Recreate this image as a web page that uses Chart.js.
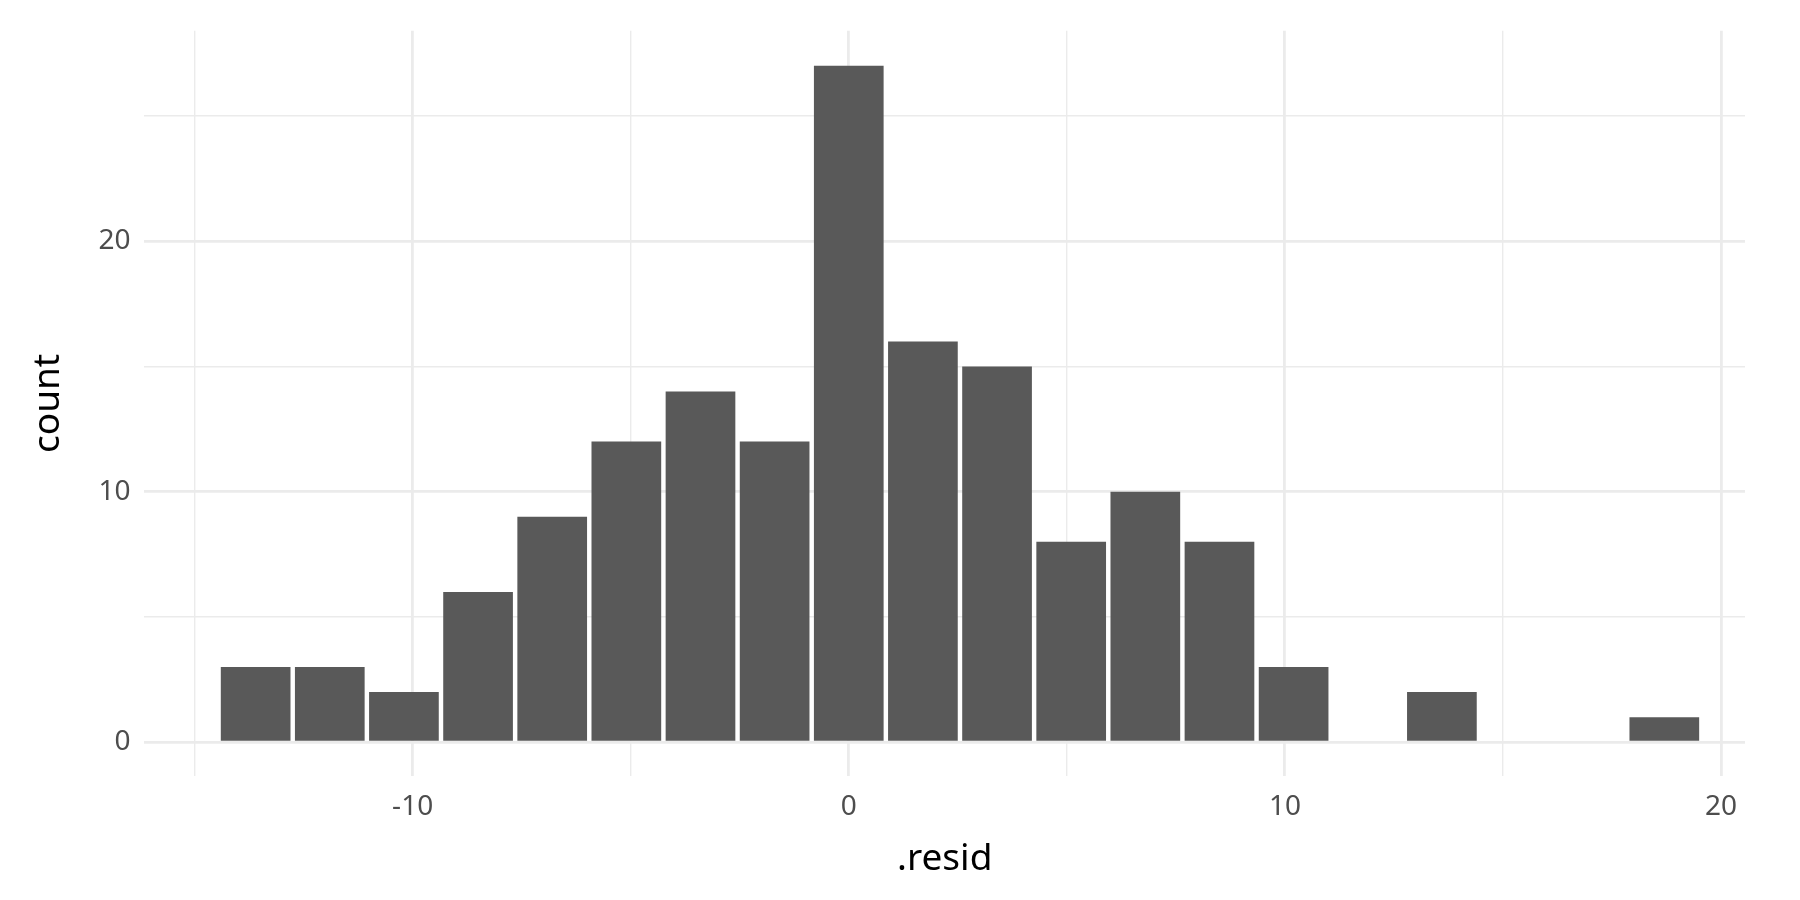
<!DOCTYPE html>
<html>
<head>
<meta charset="utf-8">
<script src="https://cdn.jsdelivr.net/npm/chart.js@4"></script>
<style>
  html, body { margin: 0; padding: 0; background: #fff; }
  #wrap { width: 1800px; height: 900px; }
</style>
</head>
<body>
<div id="wrap"><canvas id="histChart"></canvas></div>
<script>
// bin centres (binwidth 1.7) and counts
const binCenters = [-13.6, -11.9, -10.2, -8.5, -6.8, -5.1, -3.4, -1.7, 0, 1.7, 3.4, 5.1, 6.8, 8.5, 10.2, 11.9, 13.6, 15.3, 17.0, 18.7];
const counts = [3, 3, 2, 6, 9, 12, 14, 12, 27, 16, 15, 8, 10, 8, 3, 0, 2, 0, 0, 1];
const xTicks = [-15, -10, -5, 0, 5, 10, 15, 20];
const yTicks = [0, 5, 10, 15, 20, 25];
const xLabels = [-10, 0, 10, 20];
const yLabels = [0, 10, 20];

const font = "'Noto Sans', sans-serif";
const gridColor = "#ebebeb";

new Chart(document.getElementById("histChart").getContext("2d"), {
    type: "bar",
    data: {
        datasets: [{
            data: binCenters.map((c, i) => ({ x: c, y: counts[i] })),
            backgroundColor: "#595959",
            borderWidth: 0,
            barPercentage: 0.94,
            categoryPercentage: 1.0
        }]
    },
    options: {
        responsive: true,
        maintainAspectRatio: false,
        animation: false,
        layout: { padding: { left: 22, right: 55, top: 24, bottom: 14 } },
        plugins: { legend: { display: false }, tooltip: { enabled: false } },
        scales: {
            x: {
                type: "linear",
                min: -16.15,
                max: 20.55,
                offset: false,
                afterBuildTicks: axis => { axis.ticks = xTicks.map(v => ({ value: v })); },
                grid: {
                    offset: false,
                    color: gridColor,
                    lineWidth: ctx => xLabels.includes(ctx.tick && ctx.tick.value) ? 2.8 : 1.4,
                    drawTicks: false
                },
                border: { display: false },
                ticks: {
                    color: "#4d4d4d",
                    font: { family: font, size: 28 },
                    padding: 14,
                    autoSkip: false,
                    maxRotation: 0,
                    callback: v => xLabels.includes(v) ? String(v) : ""
                },
                title: { display: true, text: ".resid", color: "#000", font: { family: font, size: 37 }, padding: { top: 0 } }
            },
            y: {
                min: -1.35,
                max: 28.4,
                afterBuildTicks: axis => { axis.ticks = yTicks.map(v => ({ value: v })); },
                grid: {
                    color: gridColor,
                    lineWidth: ctx => yLabels.includes(ctx.tick && ctx.tick.value) ? 2.8 : 1.4,
                    drawTicks: false
                },
                border: { display: false },
                ticks: {
                    color: "#4d4d4d",
                    font: { family: font, size: 28 },
                    padding: 14,
                    autoSkip: false,
                    callback: v => yLabels.includes(v) ? String(v) : ""
                },
                title: { display: true, text: "count", color: "#000", font: { family: font, size: 37 }, padding: { bottom: 14 } }
            }
        }
    }
});
</script>
</body>
</html>
